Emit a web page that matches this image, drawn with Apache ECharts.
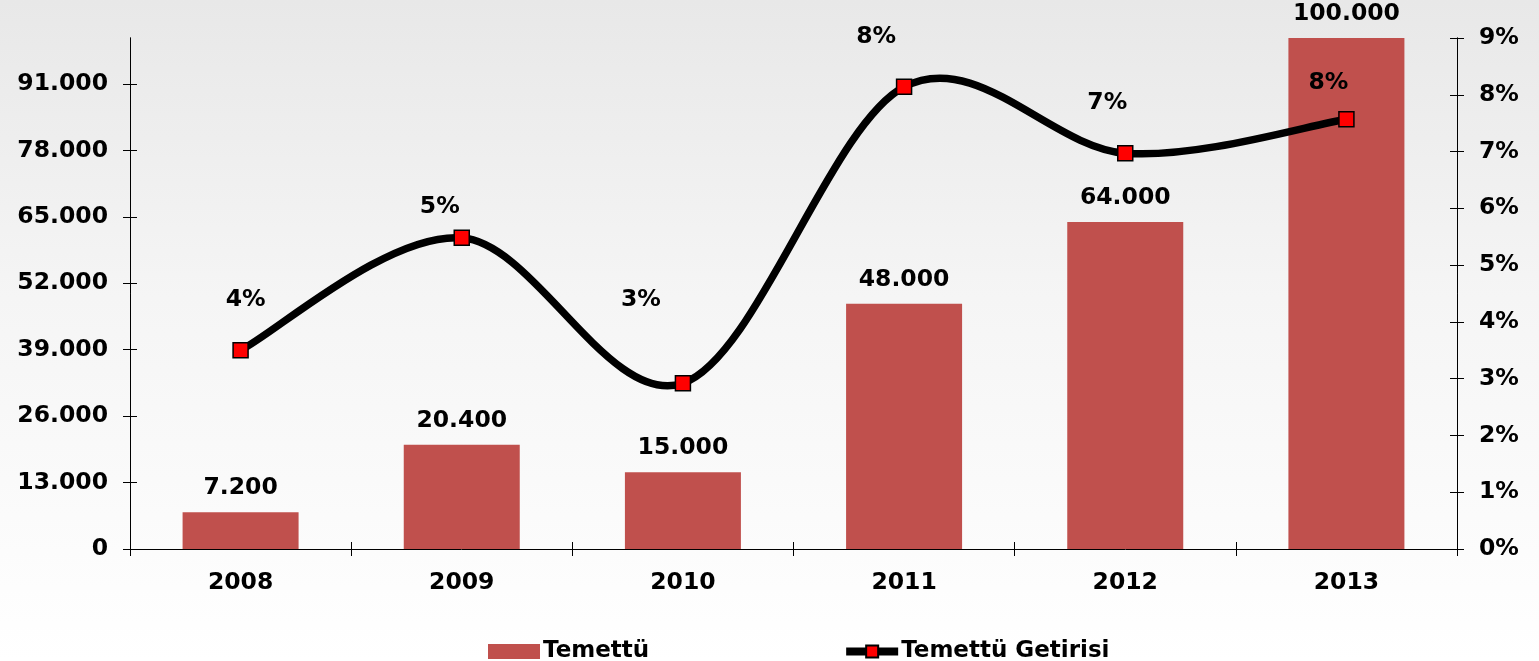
<!DOCTYPE html>
<html>
<head>
<meta charset="utf-8">
<script src="https://cdn.jsdelivr.net/npm/echarts@6/dist/echarts.min.js"></script>
<style>
html,body{margin:0;padding:0;}
#c{width:1539px;height:661px;}
</style>
</head>
<body>
<div id="c"></div>
<script>
var categories = ['2008', '2009', '2010', '2011', '2012', '2013'];
var dividends = [7200, 20400, 15000, 48000, 64000, 100000];
var yieldPct = [3.5, 5.48, 2.92, 8.14, 6.97, 7.57];
var leftTicks = [0, 13000, 26000, 39000, 52000, 65000, 78000, 91000];
var rightTicks = [0, 1, 2, 3, 4, 5, 6, 7, 8, 9];
var yieldLabelOffsets = [[5, -50], [-22, -31], [-42, -83], [-28, -50], [-18, -50], [-18, -36]];

function trNum(v) {
  return String(Math.round(v)).replace(/\B(?=(\d{3})+(?!\d))/g, '.');
}

var FONT = 'DejaVu Sans';
var AX = { color: '#000', width: 1 };

function leftAxis(extra) {
  var a = {
    type: 'value', min: 0, max: 100000, interval: 13000, position: 'left',
    splitLine: { show: false },
    axisLine: { show: true, lineStyle: AX },
    axisTick: { show: true, length: 7, lineStyle: AX, customValues: leftTicks },
    axisLabel: { color: '#000', fontWeight: 'bold', fontSize: 23.5, fontFamily: FONT, margin: 22,
      customValues: leftTicks, formatter: function (v) { return trNum(v); } }
  };
  if (extra) {
    a.axisTick.inside = true;
    a.axisLabel = { show: false };
  }
  return a;
}
function rightAxis(extra) {
  var a = {
    type: 'value', min: 0, max: 9, interval: 1, position: 'right',
    splitLine: { show: false },
    axisLine: { show: true, lineStyle: AX },
    axisTick: { show: true, length: 7, lineStyle: AX, customValues: rightTicks },
    axisLabel: { color: '#000', fontWeight: 'bold', fontSize: 23.5, fontFamily: FONT, margin: 22,
      customValues: rightTicks, formatter: '{value}%' }
  };
  if (extra) {
    a.axisTick.inside = true;
    a.axisLabel = { show: false };
  }
  return a;
}

// Excel-style smoothed curve through the data points (Catmull-Rom, tension 1/6)
function renderCurve(params, api) {
  if (params.dataIndex !== 0) return null;
  var pts = yieldPct.map(function (v, i) { return api.coord([i, v]); });
  var n = pts.length;
  var children = [];
  for (var i = 0; i < n - 1; i++) {
    var p0 = pts[Math.max(i - 1, 0)], p1 = pts[i], p2 = pts[i + 1], p3 = pts[Math.min(i + 2, n - 1)];
    children.push({
      type: 'bezierCurve',
      shape: {
        x1: p1[0], y1: p1[1], x2: p2[0], y2: p2[1],
        cpx1: p1[0] + (p2[0] - p0[0]) / 6, cpy1: p1[1] + (p2[1] - p0[1]) / 6,
        cpx2: p2[0] - (p3[0] - p1[0]) / 6, cpy2: p2[1] - (p3[1] - p1[1]) / 6
      },
      style: { fill: null, stroke: '#000', lineWidth: 7.5, lineCap: 'round', lineJoin: 'round' }
    });
  }
  return { type: 'group', children: children };
}

var chart = echarts.init(document.getElementById('c'));
var option = {
  animation: false,
  backgroundColor: new echarts.graphic.LinearGradient(0, 0, 0, 1, [
    { offset: 0, color: '#e8e8e8' },
    { offset: 0.45, color: '#f5f5f5' },
    { offset: 1, color: '#ffffff' }
  ]),
  textStyle: { fontFamily: FONT },
  grid: { left: 130, right: 82, top: 38, bottom: 112 },
  legend: {
    left: 483, top: 635,
    itemWidth: 52, itemHeight: 15, itemGap: 193,
    textStyle: { fontFamily: FONT, fontWeight: 'bold', fontSize: 23, color: '#000', padding: [0, 0, 0, -2] },
    data: [
      { name: 'Temettü', icon: 'rect' },
      { name: 'Temettü Getirisi', lineStyle: { color: '#000', width: 8, opacity: 1 } }
    ]
  },
  xAxis: [
    {
      type: 'category',
      data: categories,
      axisLine: { lineStyle: AX },
      axisTick: { show: true, length: 7, lineStyle: AX },
      axisLabel: { color: '#000', fontWeight: 'bold', fontSize: 23.5, fontFamily: FONT, margin: 22 }
    },
    {
      type: 'category', position: 'bottom',
      data: categories,
      axisLine: { show: false },
      axisTick: { show: true, inside: true, length: 7, lineStyle: AX },
      axisLabel: { show: false }
    }
  ],
  yAxis: [leftAxis(false), rightAxis(false), leftAxis(true), rightAxis(true)],
  series: [
    {
      name: 'Temettü', type: 'bar', yAxisIndex: 0,
      data: dividends, barWidth: 116,
      itemStyle: { color: '#C0504D' },
      label: { show: true, position: 'top', distance: 12, color: '#000', fontWeight: 'bold', fontSize: 23.5, fontFamily: FONT,
        formatter: function (p) { return trNum(p.value); } }
    },
    {
      name: 'curve', type: 'custom', yAxisIndex: 1, z: 3,
      data: [0],
      renderItem: renderCurve,
      silent: true
    },
    {
      name: 'Temettü Getirisi', type: 'line', yAxisIndex: 1, z: 4,
      data: yieldPct.map(function (v, i) {
        return { value: v, label: { offset: yieldLabelOffsets[i] } };
      }),
      symbol: 'rect', symbolSize: 15,
      lineStyle: { color: '#000', width: 7.5, opacity: 0 },
      itemStyle: { color: '#FF0000', borderColor: '#000', borderWidth: 1.5 },
      label: { show: true, position: 'inside', color: '#000', fontWeight: 'bold', fontSize: 23.5, fontFamily: FONT,
        formatter: function (p) { return Math.round(p.value) + '%'; } }
    }
  ]
};
chart.setOption(option);
</script>
</body>
</html>
